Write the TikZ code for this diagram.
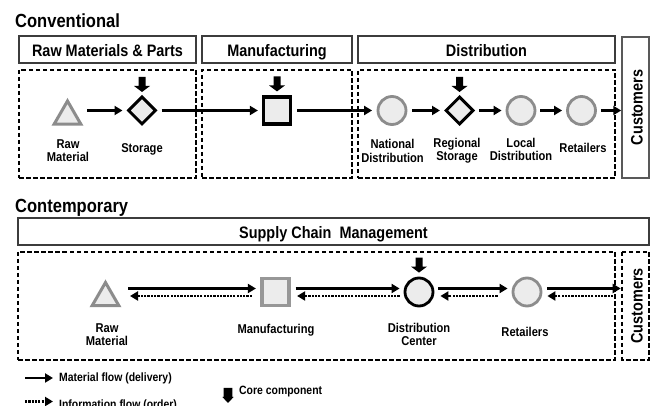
\documentclass[tikz,border=0pt]{standalone}
\usepackage{fontspec}
\setmainfont{Liberation Sans}[FakeStretch=0.87]
\usetikzlibrary{arrows.meta,shapes.geometric}

\definecolor{shapegray}{RGB}{140,140,140}
\definecolor{shapefill}{RGB}{236,236,236}
\definecolor{framegray}{RGB}{60,60,60}

\tikzset{
  title/.style={anchor=base west, inner sep=0pt, font=\fontsize{19}{21}\selectfont\bfseries},
  header/.style={draw=framegray, line width=1.3pt, inner sep=0pt,
    font=\fontsize{16.6}{18}\selectfont\bfseries, text height=14.3pt, text depth=0pt},
  stage/.style={draw=black, line width=1.6pt, dash pattern=on 4.5pt off 2.5pt, inner sep=0pt},
  label/.style={align=center, inner sep=0pt, font=\fontsize{12.8}{13.3}\selectfont\bfseries},
  legend/.style={anchor=base west, inner sep=0pt, font=\fontsize{12}{13}\selectfont\bfseries},
  rawshape/.style={regular polygon, regular polygon sides=3, minimum size=31pt, inner sep=0pt,
    draw=shapegray, fill=shapefill, line width=3pt},
  storeshape/.style={diamond, minimum width=28pt, minimum height=28pt, inner sep=0pt,
    draw=black, fill=shapefill, line width=3pt},
  plantshape/.style={rectangle, minimum size=27pt, inner sep=0pt, fill=shapefill, line width=3.2pt},
  siteshape/.style={circle, minimum size=28pt, inner sep=0pt, fill=shapefill, line width=2.8pt},
  mat/.style={line width=2.6pt, -{Triangle[length=8pt,width=9pt]}},
  inf/.style={line width=2.6pt, dash pattern=on 2.2pt off 1.1pt, -{Triangle[length=8pt,width=9pt]}},
  corearrow/.pic={\fill[black] (-3.5,0) -- (3.5,0) -- (3.5,9) -- (8,9) -- (0,15) -- (-8,9) -- (-3.5,9) -- cycle;},
  corekey/.pic={\fill[black] (-4.3,0) -- (4.3,0) -- (4.3,9) -- (5.6,9) -- (0,15) -- (-5.6,9) -- (-4.3,9) -- cycle;}
}

\begin{document}
\begin{tikzpicture}[x=1pt,y=-1pt]
\useasboundingbox (0,0) rectangle (657,406);

% ---------------- Conventional ----------------
\node[title] (convtitle) at (15,27.3) {Conventional};

\node[header, minimum width=177pt, minimum height=27pt] (h1) at (107.5,49.5) {Raw Materials \& Parts};
\node[header, minimum width=150pt, minimum height=27pt] (h2) at (277,49.5) {Manufacturing};
\node[header, minimum width=257pt, minimum height=27pt] (h3) at (486.5,49.5) {Distribution};
\node[header, draw=framegray!85, line width=1.5pt, rotate=90, minimum width=141pt, minimum height=27pt] (cu1) at (635.5,107.5) {Customers};

\node[stage, minimum width=177pt, minimum height=108pt] (d1) at (107.5,124) {};
\node[stage, minimum width=150pt, minimum height=108pt] (d2) at (277,124) {};
\node[stage, minimum width=257pt, minimum height=108pt] (d3) at (486.5,124) {};

\node[rawshape] (rm1) at (67.5,116.5) {};
\node[storeshape] (st1) at (142,110.5) {};
\node[plantshape, draw=black] (mf1) at (277,110.5) {};
\node[siteshape, draw=shapegray] (nd1) at (392,110.5) {};
\node[storeshape] (rs1) at (459.5,110.5) {};
\node[siteshape, draw=shapegray] (ld1) at (521,110.5) {};
\node[siteshape, draw=shapegray] (rt1) at (581.5,110.5) {};

\draw[mat] ([xshift=19.5pt,yshift=6pt]rm1.center) -- ([xshift=-4pt]st1.west);
\draw[mat, shorten <=4pt, shorten >=4pt] (st1) -- (mf1);
\draw[mat, shorten <=5pt, shorten >=4.5pt] (mf1) -- (nd1);
\draw[mat, shorten <=5pt, shorten >=4pt] (nd1) -- (rs1);
\draw[mat, shorten <=4pt, shorten >=4pt] (rs1) -- (ld1);
\draw[mat, shorten <=4pt, shorten >=4pt] (ld1) -- (rt1);
\draw[mat, shorten <=4pt] (rt1.east) -- (rt1.east -| cu1.north);

\pic at ([yshift=18pt]st1.north) {corearrow};
\pic at ([yshift=19pt]mf1.north) {corearrow};
\pic at ([yshift=18pt]rs1.north) {corearrow};

\node[label] (l1) at (68,151) {Raw\\Material};
\node[label] (l2) at (142,149.5) {Storage};
\node[label] (l3) at (392.5,151) {National\\Distribution};
\node[label] (l4) at (457,151) {Regional\\Storage};
\node[label] (l5) at (521,149.5) {Local\\Distribution};
\node[label] (l6) at (583,148) {Retailers};

% ---------------- Contemporary ----------------
\node[title] (conttitle) at (15,212.7) {Contemporary};

\node[header, minimum width=631pt, minimum height=27pt] (scm) at (333.5,231.5) {Supply Chain\ \ Management};
\node[stage, minimum width=597pt, minimum height=108pt] (d4) at (316.5,306) {};
\node[stage, header, draw=black, line width=1.6pt, rotate=90, minimum width=108pt, minimum height=27pt] (cu2) at (635.5,306) {Customers};

\node[rawshape] (rm2) at (105.5,298) {};
\node[plantshape, draw=shapegray!90] (mf2) at (275.5,292) {};
\node[siteshape, draw=black] (dc2) at (419,292) {};
\node[siteshape, draw=shapegray] (rt2) at (527,292) {};
\coordinate (cuin) at (rt2.east -| cu2.north);

\draw[mat] ([xshift=22.5pt,yshift=9.5pt]rm2.center) -- ([xshift=-4.5pt,yshift=3.5pt]mf2.west);
\draw[inf] ([xshift=-8.5pt,yshift=-4pt]mf2.west) -- ([xshift=24.5pt,yshift=2pt]rm2.center);
\draw[mat] ([xshift=5pt,yshift=3.5pt]mf2.east) -- ([xshift=-4pt,yshift=3.5pt]dc2.west);
\draw[inf] ([xshift=-4pt,yshift=-4pt]dc2.west) -- ([xshift=6.5pt,yshift=-4pt]mf2.east);
\draw[mat] ([xshift=4pt,yshift=3.5pt]dc2.east) -- ([xshift=-4pt,yshift=3.5pt]rt2.west);
\draw[inf] ([xshift=-14pt,yshift=-4pt]rt2.west) -- ([xshift=6pt,yshift=-4pt]dc2.east);
\draw[mat] ([xshift=5pt,yshift=3.5pt]rt2.east) -- ([xshift=-0.5pt,yshift=3.5pt]cuin);
\draw[inf] ([xshift=-8pt,yshift=-4pt]cuin) -- ([xshift=5pt,yshift=-4pt]rt2.east);

\pic at ([yshift=19pt]dc2.north) {corearrow};

\node[label] (m1) at (107,335) {Raw\\Material};
\node[label] (m2) at (276,330) {Manufacturing};
\node[label] (m3) at (419,334.5) {Distribution\\Center};
\node[label] (m4) at (525,332) {Retailers};

% ---------------- Legend ----------------
\coordinate (ka) at (25,378);
\coordinate (kb) at (53,378);
\coordinate (kc) at (25,401.5);
\coordinate (kd) at (53,401.5);
\draw[mat] (ka) -- (kb);
\draw[inf] (kc) -- (kd);
\node[legend] (kt1) at (59,381.5) {Material flow (delivery)};
\node[legend] (kt2) at (59,408.5) {Information flow (order)};
\coordinate (ke) at (228,388);
\pic at (ke) {corekey};
\node[legend] (kt3) at (239,395) {Core component};
\end{tikzpicture}
\end{document}
